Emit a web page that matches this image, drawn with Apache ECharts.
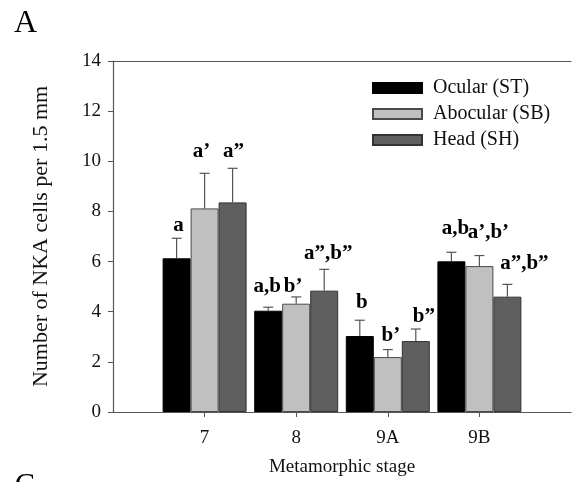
<!DOCTYPE html>
<html>
<head>
<meta charset="utf-8">
<script src="https://cdn.jsdelivr.net/npm/echarts@6/dist/echarts.min.js"></script>
<style>
  html, body { margin: 0; padding: 0; background: #fff; }
  #chart { width: 574px; height: 482px; }
</style>
</head>
<body>
<div id="chart"></div>
<script>
// Metamorphic stages (padded with empty slots at both ends of the axis)
const stages = ['7', '8', '9A', '9B'];

// Mean number of NKA cells per 1.5 mm, by skin region
const ocular   = [6.13, 4.04, 3.03, 6.01];
const abocular = [8.12, 4.32, 2.19, 5.82];
const head     = [8.36, 4.84, 2.83, 4.60];

// Standard errors (upper whiskers)
const ocularErr   = [0.80, 0.14, 0.63, 0.36];
const abocularErr = [1.40, 0.27, 0.30, 0.42];
const headErr     = [1.36, 0.85, 0.48, 0.49];

// Significance letters
const ocularSig   = ['a', 'a,b', 'b', 'a,b'];
const abocularSig = ['a\u2019', 'b\u2019', 'b\u2019', 'a\u2019,b\u2019'];
const headSig     = ['a\u201D', 'a\u201D,b\u201D', 'b\u201D', 'a\u201D,b\u201D'];

const yTicks = [0, 2, 4, 6, 8, 10, 12, 14];

// ---- layout / styling ----
const SERIF = '"Liberation Serif", "Times New Roman", serif';
const BAR_W = 28;
const AXIS_COLOR = '#555';
// letter placement tweaks: [dx, gap above whisker] in px
const letterShift = [
  [[2, 6], [-3, 15], [1, 10]],
  [[-1, 14], [-3, 4], [4, 9]],
  [[2, 11], [3, 7], [8, 6]],
  [[4, 17], [9, 16], [17, 14]]
];

const categories = [''].concat(stages, ['']);
const pad = arr => ['-'].concat(arr, ['-']);

const groups = [
  { name: 'Ocular (ST)',   vals: ocular,   err: ocularErr,   sig: ocularSig,   color: '#000000', border: '#000000' },
  { name: 'Abocular (SB)', vals: abocular, err: abocularErr, sig: abocularSig, color: '#c0c0c0', border: '#4a4a4a' },
  { name: 'Head (SH)',     vals: head,     err: headErr,     sig: headSig,     color: '#5f5f5f', border: '#333333' }
];

const series = [];
groups.forEach((g, k) => {
  series.push({
    name: g.name,
    type: 'bar',
    data: pad(g.vals),
    barWidth: BAR_W,
    barGap: '0%',
    itemStyle: { color: g.color, borderColor: g.border, borderWidth: 1 },
    emphasis: { disabled: true },
    animation: false
  });
});
groups.forEach((g, k) => {
  series.push({
    type: 'custom',
    z: 5,
    data: g.vals.map((v, i) => [i + 1, v, g.err[i]]),
    animation: false,
    renderItem: function (params, api) {
      const i = params.dataIndex;
      const xi = api.value(0), m = api.value(1), e = api.value(2);
      const base = api.coord([xi, m]);
      const top = api.coord([xi, m + e]);
      const cx = base[0] + (k - 1) * BAR_W;
      const sh = letterShift[i][k];
      const fs = 21;
      return {
        type: 'group',
        children: [
          { type: 'line', shape: { x1: cx, y1: base[1], x2: cx, y2: top[1] },
            style: { stroke: AXIS_COLOR, lineWidth: 1.2 } },
          { type: 'line', shape: { x1: cx - 5, y1: top[1], x2: cx + 5, y2: top[1] },
            style: { stroke: AXIS_COLOR, lineWidth: 1.2 } },
          { type: 'text',
            style: {
              text: g.sig[i],
              x: cx + sh[0],
              y: top[1] - sh[1] + fs * 0.18,
              align: 'center',
              verticalAlign: 'bottom',
              font: 'bold ' + fs + 'px ' + SERIF,
              fill: '#000'
            } }
        ]
      };
    }
  });
});

const chart = echarts.init(document.getElementById('chart'), null, { renderer: 'canvas' });
chart.setOption({
  backgroundColor: '#ffffff',
  animation: false,
  grid: { left: 113, right: -3, top: 61, bottom: 70 },
  legend: {
    orient: 'vertical',
    left: 367,
    top: 73,
    itemWidth: 49,
    itemHeight: 10,
    itemGap: 6,
    icon: 'rect',
    selectedMode: false,
    data: groups.map(g => g.name),
    textStyle: { fontFamily: SERIF, fontSize: 20, color: '#111', lineHeight: 19, padding: [0, 0, 0, 6] }
  },
  xAxis: [{
    type: 'category',
    data: categories,
    boundaryGap: false,
    axisLine: { lineStyle: { color: AXIS_COLOR, width: 1.2 } },
    axisTick: { length: 5, lineStyle: { color: AXIS_COLOR },
      interval: (idx, val) => val !== '' },
    axisLabel: { fontFamily: SERIF, fontSize: 19, color: '#111', margin: 17, interval: 0 },
    name: 'Metamorphic stage',
    nameLocation: 'middle',
    nameGap: 46,
    nameTextStyle: { fontFamily: SERIF, fontSize: 19, color: '#111' },
    splitLine: { show: false }
  }, {
    type: 'category',
    position: 'top',
    data: categories,
    boundaryGap: false,
    axisLine: { lineStyle: { color: AXIS_COLOR, width: 1.2 } },
    axisTick: { show: false },
    axisLabel: { show: false },
    splitLine: { show: false }
  }],
  yAxis: {
    type: 'value',
    min: yTicks[0],
    max: yTicks[yTicks.length - 1],
    interval: yTicks[1] - yTicks[0],
    axisLine: { show: true, lineStyle: { color: AXIS_COLOR, width: 1.2 } },
    axisTick: { show: true, length: 5, lineStyle: { color: AXIS_COLOR } },
    axisLabel: { fontFamily: SERIF, fontSize: 19, color: '#111', margin: 12 },
    splitLine: { show: false },
    name: 'Number of NKA cells per 1.5 mm',
    nameLocation: 'middle',
    nameGap: 61,
    nameTextStyle: { fontFamily: SERIF, fontSize: 22, color: '#111' }
  },
  graphic: [
    { type: 'text', left: 14, top: 8, style: { text: 'A', font: '32px ' + SERIF, fill: '#000' } },
    { type: 'text', x: 15, y: 485, style: { text: 'C', font: '30px ' + SERIF, fill: '#000', verticalAlign: 'middle' } }
  ],
  series: series
});
</script>
</body>
</html>
